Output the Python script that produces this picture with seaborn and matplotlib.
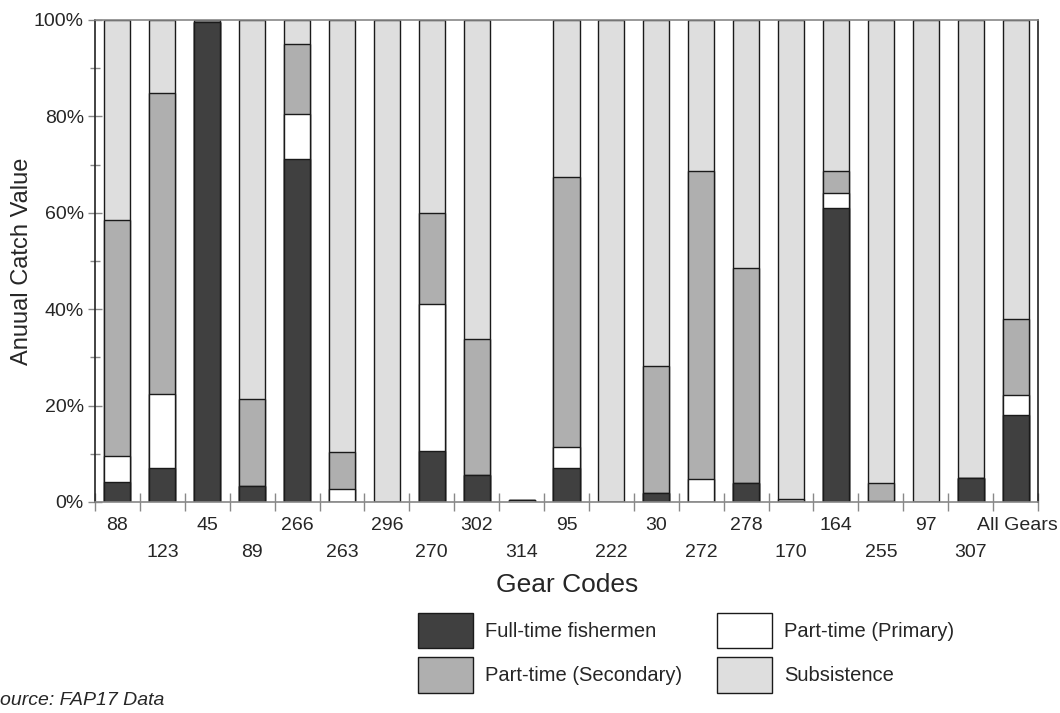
import numpy as np
import pandas as pd
import matplotlib
matplotlib.use("Agg")
import matplotlib.pyplot as plt
import seaborn as sns
from matplotlib.patches import Patch
from matplotlib.transforms import ScaledTranslation

# dados (% do valor anual de captura)
categories = ['88', '123', '45', '89', '266', '263', '296', '270', '302', '314', '95',
              '222', '30', '272', '278', '170', '164', '255', '97', '307', 'All Gears']
full_time = [4.1, 7.0, 99.6, 3.3, 71.2, 0, 0, 10.6, 5.5, 0, 7.0,
             0, 1.8, 0, 3.9, 0, 60.9, 0, 0, 5.0, 18.0]
part_primary = [5.4, 15.4, 0, 0, 9.2, 2.6, 0, 30.5, 0, 0.5, 4.5,
                0, 0, 4.7, 0, 0, 3.3, 0.3, 0, 0, 4.1]
part_secondary = [49.0, 62.5, 0, 18.0, 14.7, 7.7, 0, 18.8, 28.3, 0, 56.0,
                  0, 26.4, 64.0, 44.6, 0.6, 4.5, 3.6, 0, 0, 15.8]
subsistence = [41.5, 15.1, 0.4, 78.7, 4.9, 89.7, 100, 40.1, 66.2, 0, 32.5,
               100, 71.8, 31.3, 51.5, 99.4, 31.3, 96.1, 100, 95.0, 62.1]
series_names = ['Full-time fishermen', 'Part-time (Primary)',
                'Part-time (Secondary)', 'Subsistence']

sns.set_theme(style="white")
plt.rcParams['font.family'] = ['Liberation Sans', 'DejaVu Sans']

cores = {'Full-time fishermen': '#404040', 'Part-time (Primary)': '#ffffff',
         'Part-time (Secondary)': '#afafaf', 'Subsistence': '#dedede'}

df = pd.DataFrame({'gear': categories,
                   'Full-time fishermen': full_time,
                   'Part-time (Primary)': part_primary,
                   'Part-time (Secondary)': part_secondary,
                   'Subsistence': subsistence})
# alturas acumuladas para empilhar as barras
cum = df[series_names].cumsum(axis=1)

fig = plt.figure(figsize=(10.6, 7.13), dpi=100)
ax = fig.add_axes([95 / 1060, 1 - 502 / 713, 943 / 1060, 482 / 713])

# desenha da camada mais alta para a mais baixa
for nome in reversed(series_names):
    sns.barplot(x=df['gear'], y=cum[nome], order=categories, color=cores[nome],
                saturation=1, width=0.58, edgecolor='#1a1a1a', linewidth=1.0, ax=ax)

ax.set_xlim(-0.5, len(categories) - 0.5)
ax.set_ylim(0, 100)
ax.set_xlabel('')
ax.set_ylabel('Anuual Catch Value', fontsize=17)
ax.yaxis.set_label_coords(-0.066, 0.5)

# eixo y
ax.set_yticks(np.arange(0, 101, 20))
ax.set_yticklabels([f'{v}%' for v in range(0, 101, 20)], fontsize=14)
ax.set_yticks(np.arange(10, 100, 20), minor=True)
ax.tick_params(axis='y', which='major', direction='inout', length=10, width=1,
               color='#888888', pad=3, left=True)
ax.tick_params(axis='y', which='minor', direction='inout', length=7, width=1,
               color='#888888', left=True)

# eixo x: rótulos em duas linhas e marcas entre as barras
ax.set_xticks(range(len(categories)))
ax.set_xticklabels(categories, fontsize=14)
ax.set_xticks(np.arange(-0.5, len(categories)), minor=True)
ax.tick_params(axis='x', which='major', length=0, bottom=True)
ax.tick_params(axis='x', which='minor', direction='inout', length=13, width=1,
               color='#888888', bottom=True)
for i, tick in enumerate(ax.xaxis.get_major_ticks()):
    tick.set_pad(11 if i % 2 == 0 else 30)
ultimo = ax.get_xticklabels()[-1]
ultimo.set_transform(ultimo.get_transform() + ScaledTranslation(0.02, 0, fig.dpi_scale_trans))

for lado in ['left', 'right']:
    ax.spines[lado].set_color('#222222')
    ax.spines[lado].set_linewidth(1.2)
for lado in ['top', 'bottom']:
    ax.spines[lado].set_color('#888888')
    ax.spines[lado].set_linewidth(1.2)

fig.text(567 / 1060, 1 - 592 / 713, 'Gear Codes', fontsize=19, ha='center', va='baseline')

# legenda
handles = [Patch(facecolor=cores[n], edgecolor='#1a1a1a', linewidth=1.0, label=n)
           for n in ['Full-time fishermen', 'Part-time (Secondary)',
                     'Part-time (Primary)', 'Subsistence']]
fig.legend(handles=handles, ncol=2, loc='upper left',
           bbox_to_anchor=(418 / 1060, 1 - 613 / 713), frameon=False,
           fontsize=14.5, handlelength=2.73, handleheight=2.33, handletextpad=0.6,
           labelspacing=0.45, columnspacing=1.74, borderpad=0, borderaxespad=0)

fig.text(-0.012, 1 - 705 / 713, 'Source: FAP17 Data', fontsize=14,
         style='italic', ha='left', va='baseline')

fig.savefig('out.png', dpi=100)
